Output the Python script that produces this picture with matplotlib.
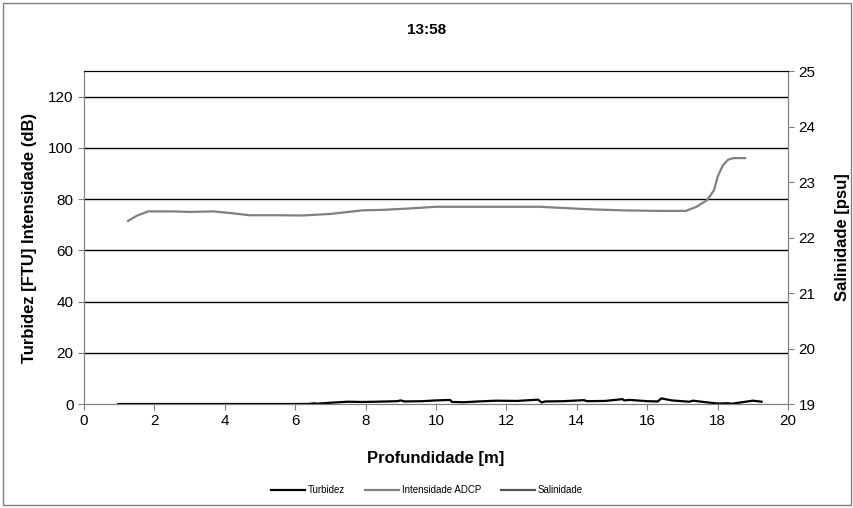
import matplotlib.pyplot as plt
from matplotlib.patches import Rectangle

plt.rcParams['font.family'] = ['Liberation Sans', 'DejaVu Sans']

# depth [m] and readings picked off the chart
turb_depth = [0.97, 2, 3, 4, 5, 6, 6.4, 6.55, 6.6, 7.0, 7.5, 7.9, 8.3, 8.9, 9.0, 9.1,
              9.6, 10.0, 10.4, 10.45, 10.8, 11.2, 11.7, 12.3, 12.9, 13.0, 13.1, 13.6,
              14.2, 14.3, 14.8, 15.3, 15.35, 15.5, 16.0, 16.3, 16.4, 16.7, 17.2, 17.3,
              17.6, 18.0, 18.3, 18.4, 18.7, 19.0, 19.25]
turb = [0, 0, 0, 0, 0, 0, 0.05, 0.3, 0.1, 0.5, 0.9, 0.8, 0.9, 1.1, 1.4, 1.0,
        1.1, 1.4, 1.6, 0.8, 0.7, 1.0, 1.3, 1.2, 1.7, 0.6, 1.0, 1.1,
        1.5, 1.1, 1.2, 1.9, 1.4, 1.6, 1.1, 1.0, 2.2, 1.4, 0.9, 1.3,
        0.8, 0.2, 0.3, 0.1, 0.7, 1.3, 0.9]

adcp_depth = [1.25, 1.5, 1.82, 2.5, 3.0, 3.66, 4.2, 4.7, 5.5, 6.2, 7.0, 7.9, 8.5,
              9.2, 10.0, 11, 12, 12.95, 13.5, 14.4, 15.3, 16.3, 17.1, 17.4, 17.7,
              17.9, 18.0, 18.15, 18.3, 18.45, 18.55, 18.78]
adcp = [71.5, 73.5, 75.2, 75.2, 75.0, 75.2, 74.5, 73.7, 73.7, 73.6, 74.2, 75.6, 75.8,
        76.3, 77.0, 77.0, 77.0, 77.0, 76.6, 76.0, 75.6, 75.4, 75.4, 77.0, 79.6,
        83.5, 88.7, 93.2, 95.4, 96.0, 96.0, 96.0]

sal_depth = []
sal = []

fig = plt.figure(figsize=(8.54, 5.08), dpi=100)
fig.patches.append(Rectangle((0.004, 0.006), 0.992, 0.988, transform=fig.transFigure,
                             fill=False, edgecolor='#808080', lw=1))
ax = fig.add_axes([0.0984, 0.2047, 0.8243, 0.6555])
ax2 = ax.twinx()

l1, = ax.plot(turb_depth, turb, color='black', lw=1.6, label='Turbidez')
l2, = ax.plot(adcp_depth, adcp, color='#808080', lw=1.6, label='Intensidade ADCP')
l3, = ax2.plot(sal_depth, sal, color='#555555', lw=1.6, label='Salinidade')

ax.set_xlim(0, 20)
ax.set_ylim(0, 130)
ax.set_xticks(range(0, 21, 2))
ax.set_yticks(range(0, 121, 20))
ax2.set_ylim(19, 25)
ax2.set_yticks(range(19, 26))

for y in range(20, 121, 20):
    ax.axhline(y, color='black', lw=1, zorder=0)

for a in (ax, ax2):
    for s in ('left', 'right', 'bottom'):
        a.spines[s].set_color('#808080')
    a.spines['top'].set_color('black')
    a.tick_params(direction='out', length=4, color='#808080', labelsize=11)

ax.set_xlabel('Profundidade [m]', fontsize=12, fontweight='bold', labelpad=16)
ax.set_ylabel('Turbidez [FTU] Intensidade (dB)', fontsize=12, fontweight='bold', labelpad=8)
ax2.set_ylabel('Salinidade [psu]', fontsize=12, fontweight='bold', labelpad=14)

fig.text(0.5, 0.94, '13:58', ha='center', va='center', fontsize=11, fontweight='bold')
fig.legend(handles=[l1, l2, l3], loc='center', bbox_to_anchor=(0.5, 0.035), ncol=3,
           frameon=False, fontsize=7, handlelength=3.5, columnspacing=2, handletextpad=0.3)

fig.savefig('out.png', dpi=100)
